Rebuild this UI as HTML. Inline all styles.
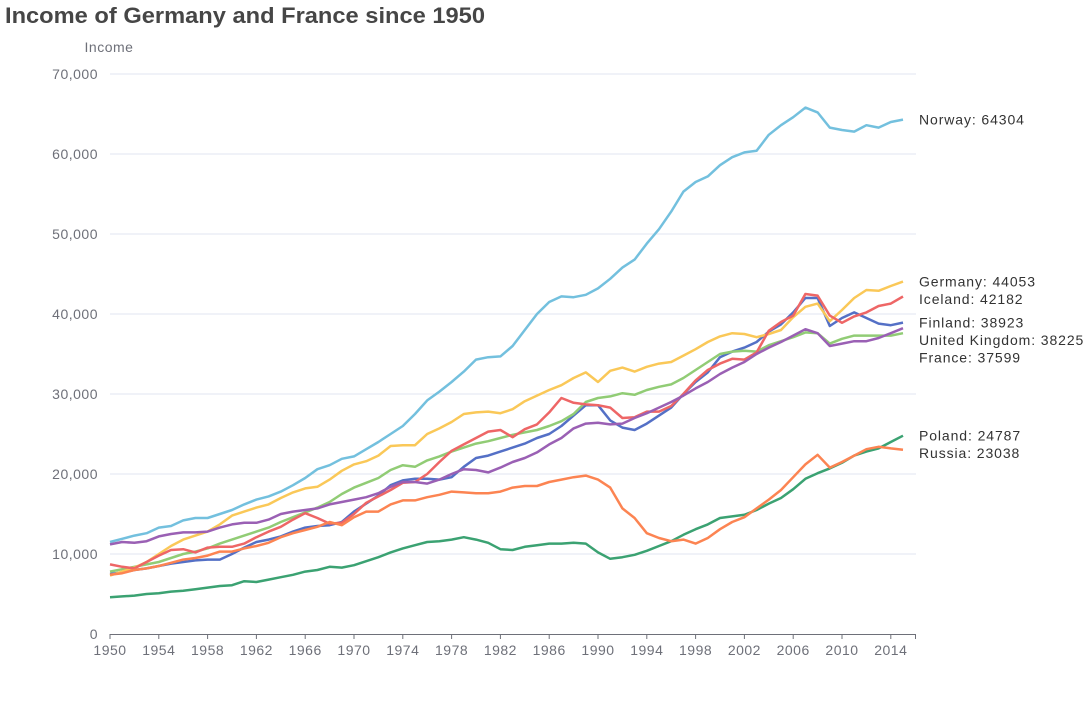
<!DOCTYPE html>
<html><head><meta charset="utf-8"><style>
html,body{margin:0;padding:0;background:#fff;}
svg{display:block;font-family:"Liberation Sans","DejaVu Sans",sans-serif;}
</style></head><body>
<svg id="chart" width="1090" height="722">
<text x="5" y="23" font-size="22" font-weight="bold" fill="#464646" textLength="480" lengthAdjust="spacingAndGlyphs">Income of Germany and France since 1950</text>
<text x="109" y="52" font-size="14" fill="#6e7079" text-anchor="middle" letter-spacing="0.5">Income</text>
<g id="grid"></g><g id="series"></g><g id="labels"></g>
</svg>
<script>
const years = [];
for (let y = 1950; y <= 2015; y++) years.push(y);
const countries = ["Finland","France","Germany","Iceland","Norway","Poland","Russia","United Kingdom"];
const colors = ["#5470c6","#91cc75","#fac858","#ee6666","#73c0de","#3ba272","#fc8452","#9a60b4"];
const yTicks = [0,10000,20000,30000,40000,50000,60000,70000];
const xTickYears = [1950,1954,1958,1962,1966,1970,1974,1978,1982,1986,1990,1994,1998,2002,2006,2010,2014];
const finland = [7.5,7.7,8.0,8.2,8.5,8.8,9.0,9.2,9.3,9.3,10.0,10.8,11.5,11.8,12.2,12.8,13.3,13.5,13.6,14.0,15.3,16.3,17.3,18.6,19.2,19.4,19.4,19.3,19.6,20.9,22.0,22.3,22.8,23.3,23.8,24.5,25.0,26.0,27.3,28.6,28.6,26.7,25.8,25.5,26.3,27.3,28.3,30.0,31.5,32.7,34.6,35.3,35.8,36.5,37.8,38.7,40.2,42.0,42.0,38.5,39.5,40.2,39.5,38.8,38.6,38.923];
const france = [7.8,8.1,8.4,8.7,9.0,9.5,10.0,10.3,10.7,11.3,11.8,12.3,12.8,13.3,14.0,14.6,15.2,15.8,16.5,17.5,18.3,18.9,19.5,20.5,21.1,20.9,21.7,22.2,22.8,23.3,23.8,24.1,24.5,24.9,25.2,25.5,26.0,26.6,27.5,29.0,29.5,29.7,30.1,29.9,30.5,30.9,31.2,32.0,33.0,34.0,35.0,35.3,35.4,35.3,36.1,36.6,37.1,37.7,37.6,36.3,36.9,37.3,37.3,37.3,37.3,37.599];
const germany = [7.3,7.8,8.3,9.0,10.0,11.0,11.8,12.3,12.8,13.7,14.8,15.3,15.8,16.2,17.0,17.7,18.2,18.4,19.3,20.4,21.2,21.6,22.3,23.5,23.6,23.6,25.0,25.7,26.5,27.5,27.7,27.8,27.6,28.1,29.1,29.8,30.5,31.1,32.0,32.7,31.5,32.9,33.3,32.8,33.4,33.8,34.0,34.8,35.6,36.5,37.2,37.6,37.5,37.1,37.5,38.0,39.6,40.9,41.3,39.1,40.5,42.0,43.0,42.9,43.5,44.053];
const iceland = [8.7,8.4,8.2,9.0,9.8,10.5,10.6,10.2,10.8,10.9,10.9,11.3,12.1,12.8,13.4,14.3,15.1,14.5,13.8,13.9,15.0,16.4,17.2,18.0,18.9,19.0,20.0,21.5,22.9,23.7,24.5,25.3,25.5,24.6,25.6,26.2,27.7,29.5,28.9,28.7,28.6,28.3,27.0,27.1,27.8,27.8,28.5,30.0,31.7,33.0,33.8,34.4,34.3,35.2,37.9,39.0,39.8,42.5,42.3,39.8,38.9,39.7,40.2,41.0,41.3,42.182];
const norway = [11.5,11.9,12.3,12.6,13.3,13.5,14.2,14.5,14.5,15.0,15.5,16.2,16.8,17.2,17.8,18.6,19.5,20.6,21.1,21.9,22.2,23.1,24.0,25.0,26.0,27.5,29.2,30.3,31.5,32.8,34.3,34.6,34.7,36.0,38.0,40.0,41.5,42.2,42.1,42.4,43.2,44.4,45.8,46.8,48.8,50.6,52.8,55.3,56.5,57.2,58.6,59.6,60.2,60.4,62.4,63.6,64.6,65.8,65.2,63.3,63.0,62.8,63.6,63.3,64.0,64.304];
const poland = [4.6,4.7,4.8,5.0,5.1,5.3,5.4,5.6,5.8,6.0,6.1,6.6,6.5,6.8,7.1,7.4,7.8,8.0,8.4,8.3,8.6,9.1,9.6,10.2,10.7,11.1,11.5,11.6,11.8,12.1,11.8,11.4,10.6,10.5,10.9,11.1,11.3,11.3,11.4,11.3,10.2,9.4,9.6,9.9,10.4,11.0,11.6,12.4,13.1,13.7,14.5,14.7,14.9,15.5,16.3,17.0,18.1,19.4,20.1,20.7,21.4,22.3,22.8,23.2,24.0,24.787];
const russia = [7.4,7.6,8.0,8.2,8.5,8.9,9.3,9.5,9.8,10.3,10.3,10.7,11.0,11.4,12.1,12.6,13.0,13.4,14.0,13.6,14.6,15.3,15.3,16.2,16.7,16.7,17.1,17.4,17.8,17.7,17.6,17.6,17.8,18.3,18.5,18.5,19.0,19.3,19.6,19.8,19.3,18.3,15.7,14.5,12.6,12.0,11.6,11.8,11.3,12.0,13.1,14.0,14.6,15.7,16.8,18.0,19.6,21.2,22.4,20.8,21.5,22.3,23.1,23.4,23.2,23.038];
const uk = [11.2,11.5,11.4,11.6,12.2,12.5,12.7,12.7,12.8,13.3,13.7,13.9,13.9,14.3,15.0,15.3,15.5,15.7,16.2,16.5,16.8,17.1,17.6,18.4,19.0,19.0,18.8,19.3,20.0,20.6,20.5,20.2,20.8,21.5,22.0,22.7,23.7,24.5,25.7,26.3,26.4,26.2,26.3,27.0,27.6,28.3,29.0,29.8,30.7,31.5,32.5,33.3,34.0,35.0,35.8,36.5,37.3,38.1,37.6,36.0,36.3,36.6,36.6,37.0,37.6,38.225];
const seriesValues = [finland,france,germany,iceland,norway,poland,russia,uk];

const NS = "http://www.w3.org/2000/svg";
const X0 = 110, XEND = 916, PX_PER_YEAR = 12.2;
const Y0 = 634, PX_PER_UNIT = 560 / 70000;
function xs(year){ return X0 + (year - 1950) * PX_PER_YEAR; }
function ys(v){ return Y0 - v * PX_PER_UNIT; }
function mk(tag, attrs, parent){ const e = document.createElementNS(NS, tag); for (const k in attrs) e.setAttribute(k, attrs[k]); parent.appendChild(e); return e; }

const grid = document.getElementById('grid');
yTicks.forEach(t => {
  const y = ys(t);
  if (t > 0) {
    const l = mk('line', {x1:X0, x2:XEND, y1:y, y2:y, stroke:'#e0e6f1', 'stroke-width':1}, grid);
    
    
  }
  const tx = mk('text', {x:98, y:y+5, 'font-size':14, fill:'#6e7079', 'text-anchor':'end', 'letter-spacing':0.5}, grid);
  tx.textContent = t.toLocaleString('en-US');
  
  
});
const axis = mk('line', {x1:X0, x2:XEND, y1:Y0+0.5, y2:Y0+0.5, stroke:'#6e7079', 'stroke-width':1}, grid);


const endTick = mk('line', {x1:XEND-0.5, x2:XEND-0.5, y1:Y0, y2:Y0+5, stroke:'#6e7079'}, grid);


xTickYears.forEach(yr => {
  const x = xs(yr);
  const tk = mk('line', {x1:x, x2:x, y1:Y0, y2:Y0+5, stroke:'#6e7079'}, grid);
  
  
  const tx = mk('text', {x:x, y:Y0+21, 'font-size':14, fill:'#6e7079', 'text-anchor':'middle', 'letter-spacing':0.5}, grid);
  tx.textContent = yr;
  
  
});

const sg = document.getElementById('series');
const ends = [];
seriesValues.forEach((vals, i) => {
  const d = vals.map((v, j) => (j ? 'L' : 'M') + xs(years[j]).toFixed(1) + ',' + ys(v * 1000).toFixed(1)).join('');
  const p = mk('path', {d:d, fill:'none', stroke:colors[i], 'stroke-width':2.5, 'stroke-linejoin':'round'}, sg);
  
  
  const last = vals[vals.length - 1];
  ends.push({name:countries[i], v:Math.round(last * 1000), y:ys(last * 1000), x:xs(years[years.length - 1])});
});
ends.sort((a, b) => a.y - b.y);
let prev = -1e9;
ends.forEach(e => { e.ly = Math.max(e.y, prev + 17.5); prev = e.ly; });
const lg = document.getElementById('labels');
ends.forEach(e => {
  const t = mk('text', {x:e.x + 16, y:e.ly + 5, 'font-size':14, fill:'#333', 'letter-spacing':0.9}, lg);
  t.textContent = e.name + ': ' + e.v;
  
  
});
</script>
</body></html>
